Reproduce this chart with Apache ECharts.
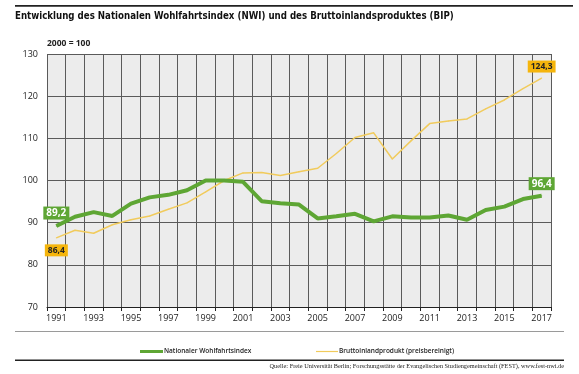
<!DOCTYPE html>
<html>
<head>
<meta charset="utf-8">
<script src="https://cdn.jsdelivr.net/npm/echarts@6/dist/echarts.min.js"></script>
<style>html,body{margin:0;padding:0;background:#fff}#c{width:579px;height:374px}</style>
</head>
<body>
<div id="c"></div>
<script>
const years = ['1991','1992','1993','1994','1995','1996','1997','1998','1999','2000','2001','2002','2003','2004','2005','2006','2007','2008','2009','2010','2011','2012','2013','2014','2015','2016','2017'];
const nwi = [89.2,91.4,92.5,91.6,94.5,96.0,96.6,97.7,100.0,100.0,99.7,95.1,94.6,94.3,91.0,91.5,92.1,90.3,91.5,91.2,91.2,91.7,90.7,93.0,93.8,95.6,96.4];
const bip = [86.4,88.2,87.5,89.5,90.7,91.6,93.2,94.7,97.3,100.0,101.8,101.9,101.2,102.1,102.9,106.4,110.2,111.3,105.1,109.4,113.5,114.1,114.6,117.0,119.1,121.8,124.3];
const yTicks = {min: 70, max: 130, interval: 10};
const names = ['Nationaler Wohlfahrtsindex', 'Bruttoinlandprodukt (preisbereinigt)'];

const green = '#5ea634';
const yellowLine = '#f1cb5c';
const yellowBox = '#f5b50c';
const fmt = v => String(v.toFixed(1)).replace('.', ',');

function labelled(arr, boxColor, textColor, firstPos, lastPos, fs) {
  return arr.map((v, i) => {
    if (i === 0 || i === arr.length - 1) {
      return {
        value: v,
        label: {
          show: true,
          position: i === 0 ? firstPos : lastPos,
          distance: i === 0 ? 6 : 5,
          formatter: fmt(v),
          backgroundColor: boxColor,
          color: textColor,
          fontWeight: 'bold',
          fontSize: fs,
          fontFamily: 'Open Sans',
          padding: [2, 3, 1, 3]
        }
      };
    }
    return v;
  });
}

const chart = echarts.init(document.getElementById('c'), null, {renderer: 'canvas'});
chart.setOption({
  animation: false,
  grid: {left: 47, right: 28, top: 54, bottom: 67, show: true, backgroundColor: '#ececec', borderWidth: 0},
  xAxis: {
    type: 'category',
    data: years,
    boundaryGap: true,
    axisLine: {show: true, lineStyle: {color: '#222', width: 1}},
    axisTick: {show: true, interval: 0, length: 4, lineStyle: {color: '#222'}},
    axisLabel: {interval: 1, color: '#222', fontSize: 9, fontFamily: 'Open Sans', margin: 7},
    splitLine: {show: true, interval: 0, lineStyle: {color: '#5a5a5a', width: 1}}
  },
  yAxis: {
    type: 'value',
    min: yTicks.min, max: yTicks.max, interval: yTicks.interval,
    name: '2000 = 100',
    nameLocation: 'end',
    nameGap: 6,
    nameTextStyle: {align: 'left', fontWeight: 'bold', fontSize: 8.5, color: '#222', fontFamily: 'Open Sans'},
    axisLine: {show: false},
    axisTick: {show: false},
    axisLabel: {color: '#222', fontSize: 9, fontFamily: 'Open Sans', margin: 9},
    splitLine: {show: true, lineStyle: {color: '#5a5a5a', width: 1}}
  },
  legend: [
    {data: [names[0]], left: 135, top: 343, itemWidth: 23, itemHeight: 3, icon: 'rect',
     textStyle: {fontSize: 6.5, fontWeight: 600, color: '#222', fontFamily: 'Open Sans', padding: [0, 0, 0, -4]}},
    {data: [names[1]], left: 311, top: 343, itemWidth: 22, itemHeight: 1.2, icon: 'rect',
     textStyle: {fontSize: 6.5, fontWeight: 600, color: '#222', fontFamily: 'Open Sans', padding: [0, 0, 0, -4]}}
  ],
  series: [
    {
      name: names[1], type: 'line', data: labelled(bip, yellowBox, '#222', 'bottom', 'top', 8.5),
      showSymbol: true, symbol: 'circle', symbolSize: 1,
      itemStyle: {color: yellowLine},
      lineStyle: {color: yellowLine, width: 1.5},
      z: 2
    },
    {
      name: names[0], type: 'line', data: labelled(nwi, green, '#fff', 'top', 'top', 10),
      showSymbol: true, symbol: 'circle', symbolSize: 1,
      itemStyle: {color: green},
      lineStyle: {color: green, width: 4},
      z: 3
    }
  ],
  graphic: [
    {type: 'rect', shape: {x: 15, y: 5, width: 558, height: 1.8}, style: {fill: '#222'}},
    {type: 'text', x: 15, y: 11, scaleX: 0.875, style: {text: 'Entwicklung des Nationalen Wohlfahrtsindex (NWI) und des Bruttoinlandsproduktes (BIP)', font: 'bold 11px "Liberation Sans Narrow", "DejaVu Sans Condensed", sans-serif', fill: '#111'}},
    {type: 'rect', shape: {x: 15, y: 331, width: 549, height: 1}, style: {fill: '#9a9a9a'}},
    {type: 'rect', shape: {x: 15, y: 359.5, width: 549, height: 1.5}, style: {fill: '#222'}},
    {type: 'text', right: 15, top: 363, style: {text: 'Quelle: Freie Universität Berlin; Forschungsstätte der Evangelischen Studiengemeinschaft (FEST), www.fest-nwi.de', font: '6.3px "Liberation Serif", serif', fill: '#222', textAlign: 'right'}}
  ]
});
</script>
</body>
</html>
